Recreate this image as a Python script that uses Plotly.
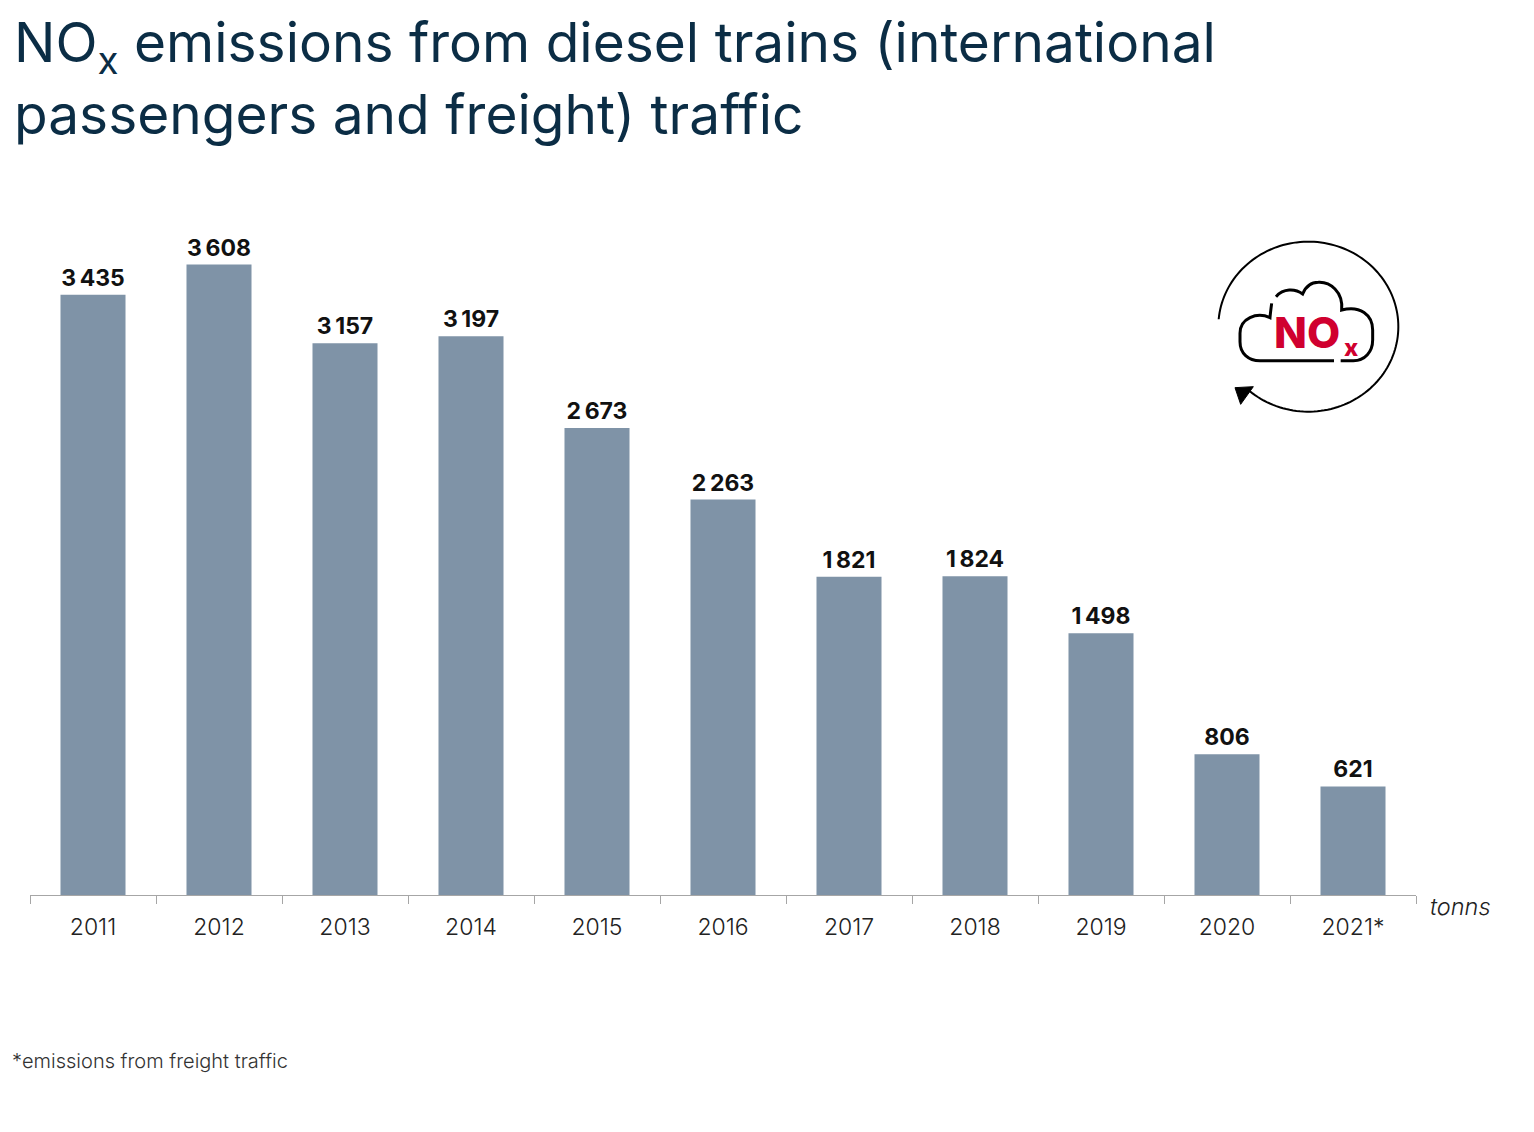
"""NOx emissions bar chart"""

import numpy as np
import plotly.graph_objects as go

years = ['2011', '2012', '2013', '2014', '2015', '2016', '2017', '2018', '2019', '2020', '2021*']
emissions = [3435, 3608, 3157, 3197, 2673, 2263, 1821, 1824, 1498, 806, 621]
labels = ['3\u2009435', '3\u2009608', '3\u2009157', '3\u2009197', '2\u2009673', '2\u2009263',
          '1\u2009821', '1\u2009824', '1\u2009498', '806', '621']

# the page body adds 8px around the figure, so the figure is that much smaller
BODY = 8
W, H = 1534 - BODY, 1132 - BODY
LEFT, RIGHT, TOP, BOTTOM = 30, 1416, 195, 895
FONT = 'Inter'


def px(x):
    return (x - LEFT) / (RIGHT - LEFT)


def py(y):
    return (BOTTOM - y) / (BOTTOM - TOP)


def zoom_pt(x, y):
    # icon sketched in 3x crop coordinates, crop origin at (1190, 220)
    return f'{px(1190 + x / 3):.5f},{py(220 + y / 3):.5f}'


def curve(cmds):
    return ' '.join(c + ' '.join(zoom_pt(*p) for p in pts) for c, pts in cmds)


# pieces of the icon
angles = np.radians(np.linspace(175, -133, 140))
ring_x = 355 + 270 * np.cos(angles)
ring_y = 320 - 255 * np.sin(angles)
ring = 'M' + ' L'.join(zoom_pt(a, b) for a, b in zip(ring_x, ring_y))

arrow_head = curve([('M', [(135, 503)]), ('L', [(190, 500)]), ('L', [(152, 553)])]) + ' Z'

cloud_left = curve([
    ('M', [(245, 250)]),
    ('C', [(243, 265), (241, 280), (240, 293)]),
    ('C', [(200, 275), (150, 295), (150, 340)]),
    ('L', [(150, 365)]),
    ('C', [(150, 400), (175, 422), (210, 422)]),
    ('L', [(432, 422)]),
])
cloud_right = curve([
    ('M', [(452, 422)]),
    ('L', [(490, 422)]),
    ('C', [(525, 422), (548, 395), (548, 360)]),
    ('L', [(548, 330)]),
    ('C', [(548, 285), (510, 255), (455, 270)]),
    ('C', [(460, 215), (420, 185), (385, 187)]),
    ('C', [(360, 187), (345, 205), (338, 222)]),
    ('C', [(315, 205), (280, 205), (258, 230)]),
])

fig = go.Figure()

fig.add_trace(go.Bar(
    x=years,
    y=emissions,
    text=labels,
    textposition='outside',
    cliponaxis=False,
    textfont=dict(family=FONT, size=23, color='#111111', weight='bold'),
    marker=dict(color='#7f93a7', line=dict(width=0)),
    hoverinfo='skip',
))

fig.add_shape(type='path', path=ring, xref='paper', yref='paper',
              line=dict(color='#000000', width=2))
for path in [cloud_left, cloud_right]:
    fig.add_shape(type='path', path=path, xref='paper', yref='paper',
                  line=dict(color='#000000', width=3))
fig.add_shape(type='path', path=arrow_head, xref='paper', yref='paper',
              fillcolor='#000000', line=dict(color='#000000', width=1))

fig.add_annotation(
    x=px(1272), y=py(332), xref='paper', yref='paper', xanchor='left', yanchor='middle',
    text='NO', showarrow=False,
    font=dict(family=FONT, size=43, color='#d0002f', weight=800))
fig.add_annotation(
    x=px(1342), y=py(347), xref='paper', yref='paper', xanchor='left', yanchor='middle',
    text='x', showarrow=False,
    font=dict(family=FONT, size=24, color='#d0002f', weight=800))

fig.add_annotation(
    x=px(1428), y=py(906), xref='paper', yref='paper', xanchor='left', yanchor='middle',
    text='<i>tonns</i>', showarrow=False,
    font=dict(family=FONT, size=23.5, color='#222222', weight=300))
fig.add_annotation(
    x=px(10), y=py(1061), xref='paper', yref='paper', xanchor='left', yanchor='middle',
    text='*emissions from freight traffic', showarrow=False,
    font=dict(family=FONT, size=20, color='#333333', weight=300))

fig.update_layout(
    width=W,
    height=H,
    margin=dict(l=LEFT - BODY, r=W - (RIGHT - BODY), t=TOP - BODY, b=H - (BOTTOM - BODY)),
    paper_bgcolor='white',
    plot_bgcolor='white',
    bargap=0.484,
    showlegend=False,
    title=dict(
        text='NO<sub>x</sub> emissions from diesel trains (international<br>passengers and freight) traffic',
        x=(14 - BODY) / W,
        xanchor='left',
        y=1 - (62 - BODY) / H,
        yanchor='middle',
        font=dict(family=FONT, size=55, color='#0b2d45', weight=400),
    ),
    xaxis=dict(
        type='category',
        tickson='boundaries',
        ticks='outside',
        ticklen=8,
        tickwidth=1,
        tickcolor='#a6a6a6',
        showline=True,
        linecolor='#a6a6a6',
        linewidth=1,
        showgrid=False,
        ticklabelstandoff=11,
        tickfont=dict(family=FONT, size=23, color='#222222', weight=300),
    ),
    yaxis=dict(range=[0, 4006], visible=False, showgrid=False),
)

fig.write_html("out.html")
